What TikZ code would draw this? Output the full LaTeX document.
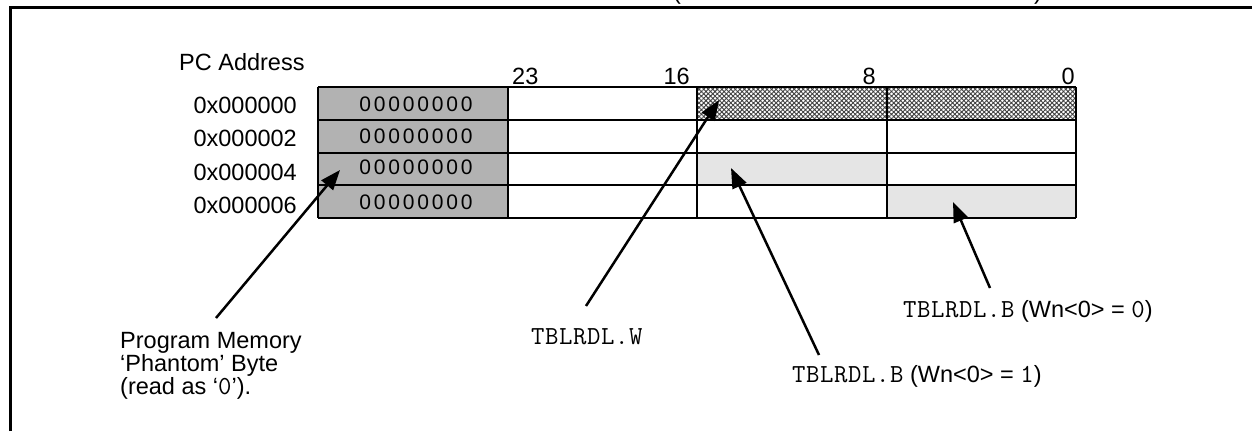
\documentclass[tikz,border=0pt]{standalone}
\usepackage{fontspec}
\setmainfont{Liberation Sans}
\newfontfamily\cour{Latin Modern Mono}[LetterSpace=2.3]
\usetikzlibrary{patterns.meta,arrows.meta}
\definecolor{phantom}{gray}{0.70}
\definecolor{sel}{gray}{0.90}
\newcommand{\zeros}{0\kern2.8pt0\kern2.8pt0\kern2.8pt0\kern2.8pt0\kern2.8pt0\kern2.8pt0\kern2.8pt0}
\newcommand{\cw}[1]{{\fontsize{26}{26}\selectfont\cour #1}}
\tikzset{
  lbl/.style={inner sep=0pt, font=\fontsize{23.5}{23.5}\selectfont},
  mono/.style={inner sep=0pt, font=\fontsize{26}{26}\selectfont\cour},
  cellline/.style={line width=2.5pt},
  pointer/.style={line width=2.5pt, -{Triangle[length=20pt,width=15pt]}},
  zcell/.style={inner sep=0pt, font=\fontsize{21}{21}\selectfont},
}
\begin{document}
\begin{tikzpicture}[x=1pt,y=-1pt]
\useasboundingbox (0,0) rectangle (1252,431);
\clip (0,0) rectangle (1252,431);
% frame
\draw[line width=3pt] (10,431) -- (10,7) -- (1260,7);
% title fragments
\node[lbl, anchor=base] (tl) at (677,-1) {(};
\node[lbl, anchor=base] (tr) at (1038,-1) {)};
% fills
\fill[phantom] (318,87) rectangle (508,218);
\fill[pattern={Hatch[angle=45,distance=3.2pt,line width=0.9pt]}, pattern color=black!75] (697,87) rectangle (1076,120);
\fill[sel] (697,153) rectangle (887,185);
\fill[sel] (887,185) rectangle (1076,218);
% grid
\foreach \yy in {87,120,153,185,218} \draw[cellline] (318,\yy) -- (1076,\yy);
\foreach \xx in {318,508,697,887,1076} \draw[cellline] (\xx,87) -- (\xx,218);
% gray cell digits
\node[zcell] (z0) at (416,104.5) {\zeros};
\node[zcell] (z1) at (416,136.5) {\zeros};
\node[zcell] (z2) at (416,167.5) {\zeros};
\node[zcell] (z3) at (416,202.5) {\zeros};
% labels
\node[lbl, anchor=base west] (pc) at (179,70) {PC Address};
\node[lbl, anchor=base east] (a0) at (297,113) {0x000000};
\node[lbl, anchor=base east] (a1) at (297,146) {0x000002};
\node[lbl, anchor=base east] (a2) at (297,180) {0x000004};
\node[lbl, anchor=base east] (a3) at (297,213) {0x000006};
\node[lbl, anchor=base west] (b23) at (512,84.5) {23};
\node[lbl, anchor=base east] (b16) at (690,84.5) {16};
\node[lbl, anchor=base east] (b8) at (876,84.5) {8};
\node[lbl, anchor=base east] (b0) at (1075,84.5) {0};
\node[lbl, anchor=base west] (pm1) at (120,348) {Program Memory};
\node[lbl, anchor=base west] (pm2) at (120,371) {‘Phantom’ Byte};
\node[lbl, anchor=base west] (pm3) at (120,394) {(read as ‘\cw{0}’).};
\node[mono, anchor=base west] (tw) at (531,344) {TBLRDL.W};
\node[lbl, anchor=base west] (tb0) at (903,317) {\cw{TBLRDL.B} (Wn<0> = \cw{0})};
\node[lbl, anchor=base west] (tb1) at (792,382) {\cw{TBLRDL.B} (Wn<0> = \cw{1})};
% connector end points
\coordinate (s1) at (216,318);
\coordinate (t1) at (340,170);
\coordinate (s2) at (586,306);
\coordinate (t2) at (719,100);
\coordinate (s3) at (819,355);
\coordinate (t3) at (731,168);
\coordinate (s4) at (990,288);
\coordinate (t4) at (953,202);
\draw[pointer] (s1) -- (t1);
\draw[pointer] (s2) -- (t2);
\draw[pointer] (s3) -- (t3);
\draw[pointer] (s4) -- (t4);
\end{tikzpicture}
\end{document}
